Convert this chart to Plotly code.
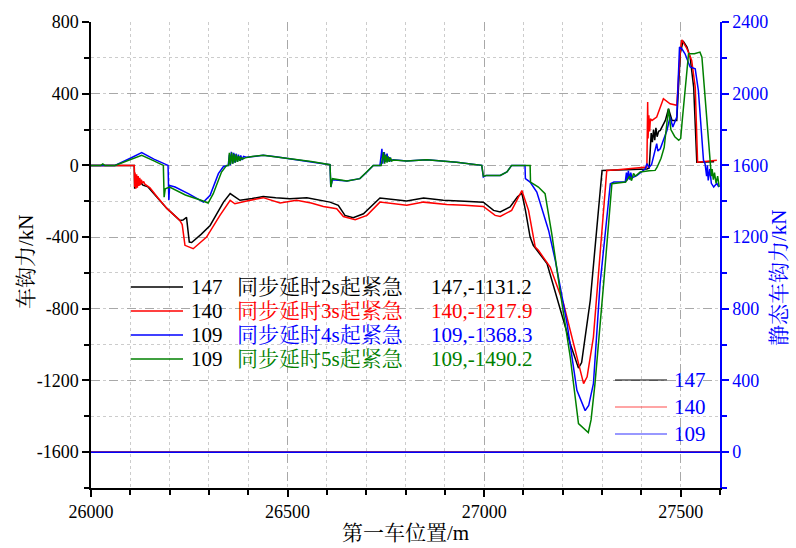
import plotly.graph_objects as go

# ---------------- data ----------------
# position of the first car (m) and coupler force (kN) for four emergency-brake delays
x_2s = [26000, 26110, 26111, 26113, 26115, 26117, 26119, 26121, 26123, 26125, 26128, 26132, 26145,
        26170, 26193, 26226, 26234, 26243, 26250, 26256, 26280, 26303, 26337, 26354, 26371, 26379,
        26410, 26438, 26470, 26506, 26549, 26590, 26608, 26629, 26646, 26667, 26693, 26735, 26770,
        26803, 26846, 26896, 26950, 26998, 27024, 27041, 27066, 27085, 27096, 27105, 27117, 27125,
        27160, 27193, 27219, 27240, 27248, 27270, 27300, 27360, 27414, 27420, 27422, 27425, 27428,
        27431, 27434, 27437, 27440, 27444, 27448, 27461, 27469, 27478, 27490, 27499, 27506, 27516,
        27524, 27533, 27541, 27560, 27585]
y_2s = [0, 0, -130, -60, -120, -70, -110, -80, -105, -90, -100, -110, -120,
        -180, -240, -307, -305, -290, -428, -430, -385, -335, -205, -157, -185, -195,
        -185, -173, -180, -186, -180, -195, -205, -223, -279, -292, -270, -182, -190,
        -199, -182, -195, -200, -205, -251, -260, -232, -175, -155, -250, -400, -446,
        -548, -790, -995, -1131.2, -1100, -753, -28, -25, -20, -15, 100, 180, 130,
        200, 140, 210, 160, 190, 195, 251, 316, 251, 251, 625, 694, 660,
        604, 437, 18, 20, 20]

x_3s = [26000, 26110, 26111, 26112, 26114, 26116, 26118, 26120, 26122, 26124, 26126, 26128, 26131,
        26134, 26137, 26150, 26170, 26193, 26226, 26232, 26239, 26260, 26294, 26328, 26354, 26366,
        26396, 26438, 26481, 26523, 26560, 26591, 26625, 26642, 26672, 26702, 26735, 26770, 26803,
        26846, 26905, 26950, 26998, 27028, 27041, 27070, 27088, 27096, 27113, 27130, 27138, 27168,
        27202, 27236, 27253, 27262, 27278, 27312, 27340, 27414, 27416, 27417, 27419, 27421, 27423,
        27427, 27439, 27456, 27473, 27490, 27499, 27503, 27516, 27528, 27537, 27543, 27570, 27592]
y_3s = [0, 0, -120, -40, -130, -50, -125, -60, -115, -70, -110, -80, -100,
        -90, -105, -125, -180, -240, -307, -330, -446, -465, -400, -279, -195, -214,
        -199, -180, -210, -195, -210, -229, -242, -285, -303, -279, -205, -215, -223,
        -205, -218, -222, -229, -279, -285, -251, -170, -140, -251, -456, -474, -567,
        -772, -1069, -1217.9, -1180, -958, -28, -24, -9, 353, 150, 280, 190, 260,
        251, 270, 372, 344, 335, 642, 700, 651, 586, 437, 18, 22, 28]

x_4s = [26000, 26061, 26100, 26129, 26160, 26191, 26196, 26198, 26200, 26214, 26250, 26286, 26303,
        26324, 26337, 26349, 26352, 26354, 26357, 26360, 26363, 26366, 26369, 26372, 26375, 26378,
        26381, 26384, 26388, 26395, 26410, 26438, 26470, 26506, 26560, 26608, 26610, 26614, 26651,
        26684, 26702, 26718, 26735, 26740, 26742, 26746, 26749, 26753, 26756, 26760, 26763, 26768,
        26803, 26854, 26930, 26994, 26998, 27005, 27041, 27058, 27070, 27104, 27105, 27117, 27134,
        27164, 27181, 27211, 27236, 27257, 27266, 27278, 27295, 27321, 27330, 27359, 27362, 27364,
        27367, 27370, 27373, 27376, 27389, 27410, 27414, 27420, 27426, 27432, 27439, 27442, 27448,
        27465, 27473, 27480, 27490, 27497, 27503, 27511, 27524, 27537, 27545, 27558, 27562, 27566,
        27568, 27570, 27574, 27578, 27584, 27592, 27597]
y_4s = [0, 0, 40, 71, 35, 5, 0, -195, -112, -121, -160, -205, -167,
        -46, -6, 0, 60, 0, 75, 10, 70, 15, 65, 20, 60, 25,
        55, 30, 50, 45, 50, 56, 48, 37, 22, 4, -121, -80, -87,
        -74, -37, 0, 0, 93, 10, 74, 20, 65, 22, 45, 25, 32,
        24, 32, 18, 0, -65, -56, -56, -37, 0, 0, -74, -93, -149,
        -363, -530, -883, -1255, -1368.3, -1340, -1218, -660, -102, -93, -93, -40, -84,
        -30, -80, -40, -70, -56, -19, 9, -10, 5, 60, 121, 80, 93,
        195, 270, 214, 270, 660, 650, 623, 549, 539, 418, 28, 9, -60,
        0, -84, -20, -100, -121, -100, -121]

x_5s = [26000, 26025, 26030, 26035, 26061, 26100, 26129, 26160, 26184, 26186, 26189, 26200, 26240,
        26280, 26298, 26311, 26332, 26345, 26350, 26352, 26355, 26358, 26361, 26364, 26367, 26370,
        26373, 26376, 26379, 26382, 26386, 26392, 26410, 26438, 26470, 26506, 26560, 26608, 26610,
        26614, 26651, 26684, 26702, 26718, 26738, 26744, 26747, 26750, 26753, 26756, 26759, 26762,
        26765, 26770, 26803, 26854, 26930, 26994, 26998, 27005, 27041, 27058, 27070, 27117, 27118,
        27138, 27155, 27172, 27193, 27219, 27240, 27265, 27272, 27282, 27304, 27325, 27360, 27370,
        27375, 27380, 27385, 27397, 27420, 27435, 27440, 27450, 27458, 27463, 27469, 27475, 27485,
        27495, 27500, 27504, 27512, 27520, 27535, 27549, 27554, 27566, 27575, 27578, 27580, 27583,
        27586, 27590, 27594, 27598]
y_5s = [0, 0, 8, 0, 0, 30, 56, 25, 0, -177, -130, -121, -165,
        -195, -210, -158, -37, 0, 0, 70, 5, 72, 10, 65, 15, 60,
        20, 52, 25, 45, 35, 42, 50, 56, 48, 37, 22, 4, -121,
        -74, -87, -74, -37, 0, 0, 74, 10, 60, 15, 50, 20, 42,
        25, 30, 24, 32, 18, 0, -60, -56, -56, -37, 0, 0, -93,
        -121, -158, -381, -698, -1069, -1441, -1490.2, -1420, -1218, -660, -102, -93, -60,
        -85, -45, -60, -37, -30, -28, -10, 40, 100, 200, 316, 200, 160,
        140, 150, 251, 450, 623, 623, 632, 604, 251, -9, -60, -20, -80,
        -40, -100, -60, -120]

# static coupler force (right axis)
x_static = [26000, 27600]
y_static_147 = [0, 0]
y_static_140 = [0, 0]
y_static_109 = [0, 0]

car_ids = ["147", "140", "109", "109"]
case_names = ["同步延时2s起紧急", "同步延时3s起紧急", "同步延时4s起紧急", "同步延时5s起紧急"]
static_ids = ["147", "140", "109"]

# tick values
x_ticks = [26000, 26500, 27000, 27500]
y_ticks = [-1600, -1200, -800, -400, 0, 400, 800]
y2_ticks = [0, 400, 800, 1200, 1600, 2000, 2400]

colors = ["#000000", "#ff0000", "#0000ff", "#008000"]
static_colors = ["#000000", "#ff4d4d", "#3333ff"]

FONT = "Liberation Serif, Noto Serif CJK SC"

# ---------------- figure ----------------
fig = go.Figure()

dyn = [(x_2s, y_2s), (x_3s, y_3s), (x_4s, y_4s), (x_5s, y_5s)]
for (xs, ys), c, name in zip(dyn, colors, case_names):
    fig.add_trace(go.Scatter(x=xs, y=ys, mode="lines", name=name,
                             line=dict(color=c, width=1.5), showlegend=False))

for ys, c, cid in zip([y_static_147, y_static_140, y_static_109], ["#000000", "#ff0000", "#0000ff"],
                      static_ids):
    fig.add_trace(go.Scatter(x=x_static, y=ys, mode="lines", name=cid, yaxis="y2",
                             line=dict(color=c, width=1.5), showlegend=False))

# plot box in pixels (used to place legend items in paper units)
L, R, T, B = 91, 720, 22, 488
W, H = 796, 548

def px(xp):
    return (xp - L) / (R - L)

def py(yp):
    return (B - yp) / (B - T)

annotations = []
shapes = []

# legend for the dynamic cases
rows = [287, 311, 335, 359]
for (xs, ys), c, cid, name, yr in zip(dyn, colors, car_ids, case_names, rows):
    shapes.append(dict(type="line", xref="paper", yref="paper",
                       x0=px(131), x1=px(183), y0=py(yr), y1=py(yr),
                       line=dict(color=c, width=1.5)))
    annotations.append(dict(xref="paper", yref="paper", x=px(189), y=py(yr),
                            text=cid, showarrow=False, xanchor="left", yanchor="middle",
                            font=dict(family=FONT, size=21, color="#000000")))
    annotations.append(dict(xref="paper", yref="paper", x=px(235), y=py(yr),
                            text=name, showarrow=False, xanchor="left", yanchor="middle",
                            font=dict(family=FONT, size=21, color=c)))
    annotations.append(dict(xref="paper", yref="paper", x=px(429), y=py(yr),
                            text=f"{cid},{min(ys):.1f}", showarrow=False, xanchor="left",
                            yanchor="middle", font=dict(family=FONT, size=21, color=c)))

# legend for the static force
rows2 = [380, 407, 434]
for c, cid, yr in zip(static_colors, static_ids, rows2):
    shapes.append(dict(type="line", xref="paper", yref="paper",
                       x0=px(615), x1=px(667), y0=py(yr), y1=py(yr),
                       line=dict(color=c, width=1.2)))
    annotations.append(dict(xref="paper", yref="paper", x=px(672), y=py(yr),
                            text=cid, showarrow=False, xanchor="left", yanchor="middle",
                            font=dict(family=FONT, size=21, color="#0000ff")))

# axis titles
annotations.append(dict(xref="paper", yref="paper", x=px(405), y=py(533),
                        text="第一车位置/m", showarrow=False, xanchor="center", yanchor="middle",
                        font=dict(family=FONT, size=21, color="#000000")))
annotations.append(dict(xref="paper", yref="paper", x=px(26), y=py(262),
                        text="车钩力/kN", showarrow=False, textangle=-90,
                        xanchor="center", yanchor="middle",
                        font=dict(family=FONT, size=21, color="#000000")))
annotations.append(dict(xref="paper", yref="paper", x=px(779), y=py(278),
                        text="静态车钩力/kN", showarrow=False, textangle=-90,
                        xanchor="center", yanchor="middle",
                        font=dict(family=FONT, size=21, color="#0000ff")))

fig.update_layout(
    width=W, height=H,
    margin=dict(l=L, r=W - R, t=T, b=H - B),
    plot_bgcolor="white", paper_bgcolor="white",
    font=dict(family=FONT, size=18, color="#000000"),
    showlegend=False,
    annotations=annotations,
    shapes=shapes,
    xaxis=dict(
        range=[26000, 27600],
        tickmode="array", tickvals=x_ticks, ticktext=[str(v) for v in x_ticks],
        showline=True, linecolor="#000000", linewidth=1.5,
        ticks="outside", ticklen=7, tickwidth=1.5, tickcolor="#000000",
        showgrid=True, gridcolor="#a8a8a8", griddash="dash", gridwidth=1,
        minor=dict(tick0=26000, dtick=100, ticks="outside", ticklen=5, tickwidth=1.5,
                   tickcolor="#000000", showgrid=True, gridcolor="#cccccc",
                   griddash="dot", gridwidth=1),
        zeroline=False, tickfont=dict(family=FONT, size=18, color="#000000"),
    ),
    yaxis=dict(
        range=[-1800, 800],
        tickmode="array", tickvals=y_ticks, ticktext=[str(v) for v in y_ticks],
        showline=True, linecolor="#000000", linewidth=1.5,
        ticks="outside", ticklen=7, tickwidth=1.5, tickcolor="#000000",
        showgrid=True, gridcolor="#a8a8a8", griddash="dash", gridwidth=1,
        minor=dict(tick0=0, dtick=200, ticks="outside", ticklen=5, tickwidth=1.5,
                   tickcolor="#000000", showgrid=True, gridcolor="#cccccc",
                   griddash="dot", gridwidth=1),
        zeroline=False, tickfont=dict(family=FONT, size=18, color="#000000"),
    ),
    yaxis2=dict(
        overlaying="y", side="right", anchor="x",
        range=[-200, 2400],
        tickmode="array", tickvals=y2_ticks, ticktext=[str(v) for v in y2_ticks],
        showline=True, linecolor="#0000ff", linewidth=1.5,
        ticks="outside", ticklen=7, tickwidth=1.5, tickcolor="#0000ff",
        minor=dict(tick0=0, dtick=200, ticks="outside", ticklen=5, tickwidth=1.5,
                   tickcolor="#0000ff"),
        showgrid=False, zeroline=False,
        tickfont=dict(family=FONT, size=18, color="#0000ff"),
    ),
)

fig.write_html("out.html")
